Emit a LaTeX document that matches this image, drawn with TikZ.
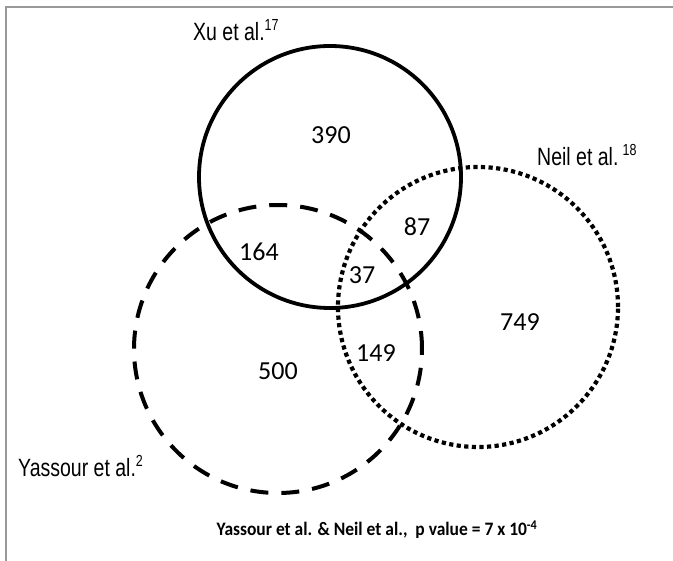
\documentclass[tikz,border=0pt]{standalone}
\usepackage{fontspec}
\setmainfont{Carlito}
\newfontfamily\narrowfont[FakeStretch=0.78]{Liberation Sans}
\newfontfamily\calfont{Carlito}
\newfontfamily\calnarrow[FakeStretch=0.92]{Carlito}
\begin{document}
\begin{tikzpicture}[x=1pt,y=-1pt,
  frameline/.style={draw=black!40, line width=1.2pt},
  xuset/.style={draw=black, line width=3.8pt},
  yaset/.style={draw=black, line width=4pt, dash pattern=on 18pt off 13pt},
  neilset/.style={draw=black, line width=4.2pt, dash pattern=on 4.2pt off 3.4pt},
  setlabel/.style={font=\narrowfont\fontsize{25}{28}\selectfont, inner sep=0pt},
  suplabel/.style={font=\narrowfont\fontsize{16}{16}\selectfont},
  count/.style={font=\calfont\fontsize{26}{29}\selectfont, inner sep=0pt},
  note/.style={font=\calnarrow\bfseries\fontsize{19}{22}\selectfont, inner sep=0pt}
]
\useasboundingbox (0,0) rectangle (673,561);
\coordinate (ftl) at (6,7);
\coordinate (ftr) at (673,7);
\coordinate (fbl) at (6,561);
\draw[frameline] (ftr) -- (ftl) -- (fbl);

\node[xuset, circle, minimum size=262pt, inner sep=0pt] (xu) at (330,177) {};
\node[yaset, circle, minimum size=288pt, inner sep=0pt] (ya) at (278,349) {};
\node[neilset, circle, minimum size=280pt, inner sep=0pt] (neil) at (478,307) {};

\node[setlabel, anchor=west] (lxu) at (193,30) {Xu et al.\raisebox{0.4em}{\fontsize{16}{16}\selectfont 17}};
\node[setlabel, anchor=west] (lneil) at (537,155) {Neil et al.\,\raisebox{0.4em}{\fontsize{16}{16}\selectfont 18}};
\node[setlabel, anchor=west] (lya) at (18,466) {Yassour et al.\raisebox{0.4em}{\fontsize{16}{16}\selectfont 2}};

\node[count] (n390) at (331,135) {390};
\node[count] (n164) at (259,252) {164};
\node[count] (n87) at (417,227) {87};
\node[count] (n37) at (362,275) {37};
\node[count] (n749) at (520,322) {749};
\node[count] (n500) at (278,371) {500};
\node[count] (n149) at (376,353) {149};

\node[note] (pval) at (377,530) {Yassour et al. \& Neil et al.,\ \ p\ value = 7 x 10\textsuperscript{-4}};
\end{tikzpicture}
\end{document}
